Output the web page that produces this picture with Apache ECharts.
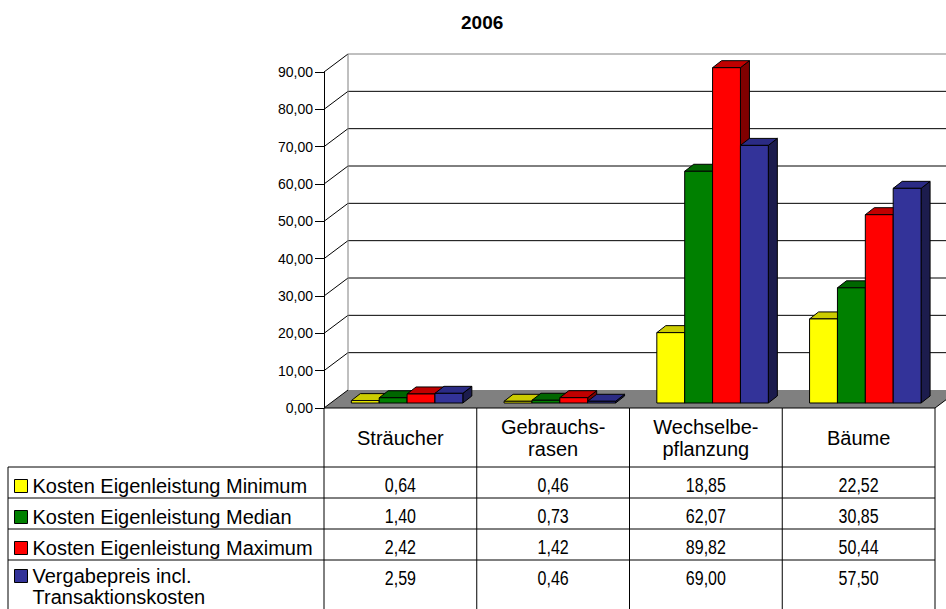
<!DOCTYPE html>
<html><head><meta charset="utf-8">
<script src="https://cdn.jsdelivr.net/npm/echarts@6.0.0/dist/echarts.min.js"></script>
<style>html,body{margin:0;padding:0;background:#fff}#c{width:946px;height:609px}</style>
</head><body><div id="c"></div>
<script>
const chartTitle = '2006';
const categories = ['Sträucher', 'Gebrauchs-\nrasen', 'Wechselbe-\npflanzung', 'Bäume'];
const seriesNames = ['Kosten Eigenleistung Minimum', 'Kosten Eigenleistung Median', 'Kosten Eigenleistung Maximum', 'Vergabepreis incl. Transaktionskosten'];
const minimum = [0.64, 0.46, 18.85, 22.52];
const median = [1.40, 0.73, 62.07, 30.85];
const maximum = [2.42, 1.42, 89.82, 50.44];
const vergabe = [2.59, 0.46, 69.00, 57.50];
const yTicks = [0, 10, 20, 30, 40, 50, 60, 70, 80, 90];

const seriesValues = [minimum, median, maximum, vergabe];
const frontColors = ['#FFFF00', '#008000', '#FF0000', '#333399'];
const topColors = ['#CCCC00', '#006600', '#C00000', '#2B2B85'];
const sideColors = ['#808000', '#004000', '#800000', '#1C1C4D'];
const FONT = '"Liberation Sans", Arial, sans-serif';
const yMax = yTicks[yTicks.length - 1];
const DX = 24, DY = -18;          // wall depth
const FX = 6.7, FY = -5;          // bar front plane offset
const BDX = 9, BDY = -7;          // bar depth
const BAR_FRAC = 0.1825;
const HEADER_H = 59, ROW_H = 31, TABLE_LEFT = 8, TEXT_OFF = 18.5;
const VALUE_SCALE_X = 0.8;

const fmt = v => v.toFixed(2).replace('.', ',');
function ln(x1, y1, x2, y2, stroke) {
  return {type: 'line', shape: {x1, y1, x2, y2}, style: {stroke: stroke || '#000', lineWidth: 1}};
}

function renderWalls(params, api) {
  const band = api.size([1, 0])[0];
  const n = categories.length;
  const left = api.coord([0, 0])[0] - band / 2;
  const right = api.coord([n - 1, 0])[0] + band / 2;
  const y0 = api.coord([0, 0])[1];
  const yTop = api.coord([0, yMax])[1];
  const ch = [];
  ch.push({type: 'polygon', shape: {points: [[left + DX, yTop + DY], [right + DX, yTop + DY], [right + DX, y0 + DY], [left + DX, y0 + DY]]}, style: {fill: '#fff'}});
  ch.push({type: 'polygon', shape: {points: [[left, y0], [left + DX, y0 + DY], [right + DX, y0 + DY], [right, y0]]}, style: {fill: '#808080'}});
  yTicks.forEach(v => {
    const y = api.coord([0, v])[1];
    if (v > 0) ch.push(ln(left + DX, y + DY, right + DX, y + DY, v === yMax ? '#808080' : '#000'));
    ch.push(ln(left, y, left + DX, y + DY, '#000'));
  });
  ch.push(ln(left + DX, y0 + DY, left + DX, yTop + DY, '#808080'));
  ch.push(ln(right, y0, right + DX, y0 + DY, '#000'));
  return {type: 'group', children: ch};
}

function makeBarRenderer(s) {
  return function (params, api) {
    const cat = api.value(0), v = api.value(1);
    const band = api.size([1, 0])[0];
    const bw = band * BAR_FRAC;
    const c = api.coord([cat, v]);
    const b = api.coord([cat, 0]);
    const x = c[0] - 2 * bw + s * bw + FX;
    const yt = c[1] + FY, yb = b[1] + FY;
    const st = {stroke: '#000', lineWidth: 1};
    return {type: 'group', children: [
      {type: 'polygon', shape: {points: [[x + bw, yt], [x + bw + BDX, yt + BDY], [x + bw + BDX, yb + BDY], [x + bw, yb]]}, style: Object.assign({fill: sideColors[s]}, st)},
      {type: 'polygon', shape: {points: [[x, yt], [x + BDX, yt + BDY], [x + bw + BDX, yt + BDY], [x + bw, yt]]}, style: Object.assign({fill: topColors[s]}, st)},
      {type: 'rect', shape: {x: x, y: yt, width: bw, height: yb - yt}, style: Object.assign({fill: frontColors[s]}, st)}
    ]};
  };
}

function renderTable(params, api) {
  const i = api.value(0);
  const n = categories.length;
  const band = api.size([1, 0])[0];
  const cx = api.coord([i, 0])[0];
  const y0 = api.coord([0, 0])[1];
  const l = cx - band / 2, r = cx + band / 2;
  const H = api.getHeight();
  const ch = [];
  ch.push(ln(l, y0, r, y0));
  ch.push(ln(l, y0, l, H));
  if (i === n - 1) ch.push(ln(r, y0, r, H));
  for (let k = 0; k < seriesValues.length; k++) {
    const ry = y0 + HEADER_H + k * ROW_H;
    ch.push(ln(l, ry, r, ry));
    if (i === 0) ch.push(ln(TABLE_LEFT, ry, l, ry));
    ch.push({type: 'text', x: cx, y: ry + TEXT_OFF, scaleX: VALUE_SCALE_X, scaleY: 1,
      style: {text: fmt(seriesValues[k][i]), x: 0, y: 0, align: 'center', verticalAlign: 'middle', font: '20px ' + FONT, fill: '#000'}});
  }
  if (i === 0) ch.push(ln(TABLE_LEFT, y0 + HEADER_H, TABLE_LEFT, H));
  return {type: 'group', children: ch};
}

const chart = echarts.init(document.getElementById('c'), null, {renderer: 'svg'});
const legendCommon = {
  orient: 'vertical', left: 14, padding: 0, itemWidth: 13, itemHeight: 13, itemGap: 9, icon: 'rect',
  selectedMode: false,
  itemStyle: {borderColor: '#000', borderWidth: 1},
  textStyle: {fontSize: 20, lineHeight: 22, color: '#000', fontFamily: FONT}
};
chart.setOption({
  animation: false,
  backgroundColor: '#fff',
  title: {text: chartTitle, left: 461, top: 13, padding: 0,
    textStyle: {fontSize: 19, fontWeight: 'bold', color: '#000', fontFamily: FONT}},
  legend: [
    Object.assign({}, legendCommon, {top: 475, data: seriesNames.slice(0, 3)}),
    Object.assign({}, legendCommon, {top: 544.5, data: seriesNames.slice(3),
      textStyle: {fontSize: 20, lineHeight: 21, color: '#000', fontFamily: FONT},
      formatter: () => ' \nVergabepreis incl.\nTransaktionskosten'})
  ],
  grid: {left: 324, right: 11, top: 72, bottom: 201, containLabel: false, outerBoundsMode: 'none'},
  xAxis: {type: 'category', data: categories,
    axisLine: {show: false}, axisTick: {show: false}, splitLine: {show: false},
    axisLabel: {interval: 0, margin: 30, verticalAlign: 'middle', fontSize: 20, lineHeight: 22, color: '#000', fontFamily: FONT}},
  yAxis: {type: 'value', min: 0, max: yMax, interval: 10,
    axisLine: {show: true, lineStyle: {color: '#000', width: 1}},
    axisTick: {show: true, inside: false, length: 9, lineStyle: {color: '#000', width: 1}},
    splitLine: {show: false},
    axisLabel: {margin: 11, fontSize: 14, color: '#000', fontFamily: FONT, formatter: v => fmt(v)}},
  series: [
    {type: 'custom', name: 'walls', silent: true, renderItem: renderWalls, data: [[0, 0]], z: 1}
  ].concat(seriesNames.map((name, s) => ({
    type: 'custom', name: name, renderItem: makeBarRenderer(s), z: 2,
    itemStyle: {color: frontColors[s], borderColor: '#000', borderWidth: 1},
    data: seriesValues[s].map((v, i) => [i, v])
  }))).concat([
    {type: 'custom', name: 'table', silent: true, renderItem: renderTable, z: 3,
      data: categories.map((c, i) => [i, 0])}
  ])
});
</script></body></html>
